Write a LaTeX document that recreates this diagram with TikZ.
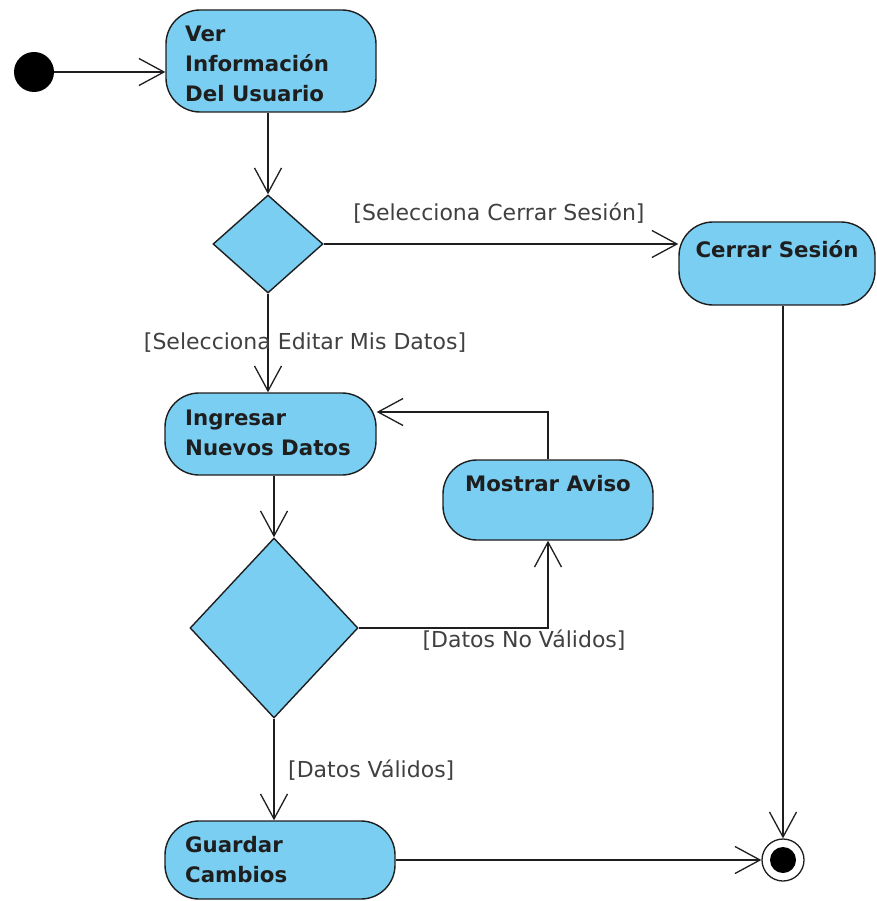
\documentclass[tikz,border=0pt]{standalone}
\usepackage{fontspec}
\setmainfont{DejaVu Sans}
\usetikzlibrary{shapes.geometric,arrows.meta}
\definecolor{actfill}{RGB}{122,206,242}
\definecolor{ink}{RGB}{30,30,30}
\begin{document}
\begin{tikzpicture}[x=1pt,y=-1pt,
  activity/.style={draw=ink, line width=1.4pt, fill=actfill, rounded corners=34pt, inner sep=0pt},
  decision/.style={draw=ink, line width=1.4pt, fill=actfill, diamond, inner sep=0pt},
  acttext/.style={font=\fontsize{21.3}{30}\selectfont\bfseries, text=ink, inner sep=0pt, align=left},
  guard/.style={font=\fontsize{22}{26}\selectfont, text=ink!85, inner sep=0pt},
  flow/.style={draw=ink, line width=1.3pt, -{Straight Barb[length=25pt,width=27pt,line width=1.3pt]}}]
\useasboundingbox (0,0) rectangle (876,901);

% initial and final nodes
\node[circle, fill=black, minimum size=40pt, inner sep=0pt] (start) at (34,72) {};
\node[circle, draw=ink, line width=1.3pt, fill=white, minimum size=42pt, inner sep=0pt] (end) at (783,860) {};
\node[circle, fill=black, minimum size=26pt, inner sep=0pt] (endcore) at (end.center) {};

% activities
\node[activity, minimum width=210pt, minimum height=102pt] (ver) at (271,61) {};
\node[acttext, anchor=north west] (vert) at (185,26) {Ver\\Información\\Del Usuario};

\node[activity, minimum width=196pt, minimum height=83pt] (cerrar) at (777,263.5) {};
\node[acttext, anchor=base] (cerrart) at (777,257) {Cerrar Sesión};

\node[activity, minimum width=211pt, minimum height=82pt] (ing) at (270.5,434) {};
\node[acttext, anchor=north west] (ingt) at (185,410) {Ingresar\\Nuevos Datos};

\node[activity, minimum width=210pt, minimum height=80pt] (mostrar) at (548,500) {};
\node[acttext, anchor=base] (mostrart) at (548,491) {Mostrar Aviso};

\node[activity, minimum width=230pt, minimum height=78pt] (guardar) at (280,860) {};
\node[acttext, anchor=north west] (guardart) at (185,836) {Guardar\\Cambios};

% decisions
\node[decision, minimum width=110pt, minimum height=98pt] (d1) at (268,244) {};
\node[decision, minimum width=168pt, minimum height=180pt] (d2) at (274,628) {};

% control flows
\draw[flow] (start.east) -- (start.east -| ver.west);
\draw[flow] (d1.north |- ver.south) -- (d1.north);
\draw[flow] (d1.east) -- (d1.east -| cerrar.west);
\draw[flow] (d1.south) -- (d1.south |- ing.north);
\draw[flow] (d2.north |- ing.south) -- (d2.north);
\draw[flow] (d2.east) -| (mostrar.south);
\draw[flow] (mostrar.north) |- ([yshift=22pt]ing.east);
\draw[flow] (d2.south) -- (d2.south |- guardar.north);
\draw[flow] (end.north |- cerrar.south) -- (end.north);
\draw[flow] (guardar.east) -- (end.west);

% guards
\node[guard] (g1) at (499,213) {[Selecciona Cerrar Sesión]};
\node[guard] (g2) at (305,343) {[Selecciona Editar Mis Datos]};
\node[guard] (g3) at (524,640) {[Datos No Válidos]};
\node[guard, anchor=west] (g4) at (288,770) {[Datos Válidos]};
\end{tikzpicture}
\end{document}
